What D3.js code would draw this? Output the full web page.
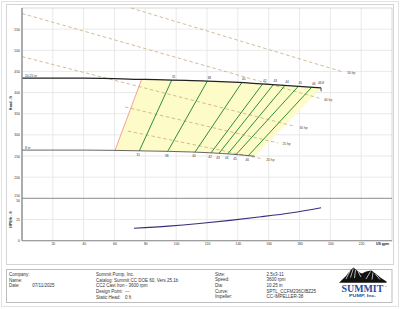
<!DOCTYPE html>
<html><head><meta charset="utf-8">
<script src="https://cdn.jsdelivr.net/npm/d3@7"></script>
<style>body{margin:0;background:#fff}svg{display:block;font-family:"Liberation Sans",Arial,sans-serif}</style>
</head><body><svg id="c" width="400" height="309"></svg>
<script>
// ---------- data ----------
const headTicks = [150,200,250,300,350,400,450,500,550];
const npshTicks = [0,25,50];
const flowTicks = [20,40,60,80,100,120,140,160,180,200,220];
const headGrid = [200,250,300,350,400,450,500,550];

const maxDiaLabel = "10.25 in";
const maxDiaFlow = [0,40,80,120,150,170,194];
const maxDiaHead = [434,434,431,427,422,417,411];
const minDiaLabel = "8 in";
const minDiaFlow = [0,40,80,110,130,151];
const minDiaHead = [264,264,262,259.5,256,249.5];

const effLabels = ["31","38","40","42","43","44","45","46"];
const effFlowMinDia = [76.1,94.5,112.2,122.6,127.8,133.4,138.8,146.8];
const effFlowMaxDia = [97.1,120.2,142.5,156.1,163.0,170.6,179.2,187.9];
const bepLabel = "46.8";

const minFlowMinDia = 60.3;
const minFlowMaxDia = 77.6;

const hpLabels = ["50 hp","40 hp","30 hp","25 hp","20 hp"];
const hpStartFlow = [70.7,0,0,66.8,68.7];
const hpStartHead = [600,587,485,366,309];
const hpEndFlow = [208,193,177,166,155.5];
const hpEndHead = [449,386.5,320,281,243.6];

const npshFlow = [72.6,95,115,135,155,175,194];
const npshValue = [14.6,17.2,20.3,24,28.2,33,38.9];

const infoLeftLabels = ["Company:","Name:","Date:"];
const infoLeftValues = ["","","07/11/2025"];
const infoMidLabels = ["Summit Pump, Inc.","Catalog: Summit CC DOE 60, Vers 25.1b","CC2 Cast Iron - 3600 rpm","Design Point:","Static Head:"];
const infoMidValues = ["","","","---","0 ft"];
const infoRightLabels = ["Size:","Speed:","Dia:","Curve:","Impeller:"];
const infoRightValues = ["2.5x3-11","3600 rpm","10.25 in","SPTL_CCFM236CIBZ25","CC-IMPELLER-38"];

// ---------- layout ----------
const svg = d3.select("#c");
const L=22, R=392, T=8, S=198.3, B=240.7;
const x = d3.scaleLinear([0,240],[L,R]);
const yH = d3.scaleLinear([150,600],[S,T]);
const yN = d3.scaleLinear([0,50],[B,S]);

// frames
svg.append("rect").attr("x",1.5).attr("y",1.5).attr("width",397).attr("height",305)
  .attr("fill","none").attr("stroke","#e2e2e2");
svg.append("rect").attr("x",6.5).attr("y",4.5).attr("width",387).attr("height",260)
  .attr("fill","none").attr("stroke","#d4d4d4");
svg.append("rect").attr("x",6.5).attr("y",269.5).attr("width",385.5).attr("height",33)
  .attr("fill","none").attr("stroke","#bdbdbd");

const g = svg.append("g");
// grid
const grid = g.append("g").attr("stroke","#e3e3e3").attr("stroke-width",0.8);
flowTicks.forEach(f=>grid.append("line").attr("x1",x(f)).attr("x2",x(f)).attr("y1",T).attr("y2",B));
headGrid.forEach(h=>grid.append("line").attr("x1",L).attr("x2",R).attr("y1",yH(h)).attr("y2",yH(h)));
grid.append("line").attr("x1",L).attr("x2",R).attr("y1",yN(25)).attr("y2",yN(25));
// plot border
g.append("rect").attr("x",L).attr("y",T).attr("width",R-L).attr("height",B-T)
  .attr("fill","none").attr("stroke","#d0d0d0").attr("stroke-width",0.8);

// interpolators along diameter curves
const maxH = d3.scaleLinear(maxDiaFlow,maxDiaHead);
const minH = d3.scaleLinear(minDiaFlow,minDiaHead);
const line = d3.line().curve(d3.curveMonotoneX);

// yellow operating region
const qEndMax = maxDiaFlow[maxDiaFlow.length-1], qEndMin = minDiaFlow[minDiaFlow.length-1];
const poly = [];
poly.push([x(minFlowMinDia),yH(minH(minFlowMinDia))]);
poly.push([x(minFlowMaxDia),yH(maxH(minFlowMaxDia))]);
d3.range(minFlowMaxDia,qEndMax,2).forEach(q=>poly.push([x(q),yH(maxH(q))]));
poly.push([x(qEndMax),yH(maxH(qEndMax))]);
poly.push([x(qEndMin),yH(minH(qEndMin))]);
d3.range(qEndMin,minFlowMinDia,-2).forEach(q=>poly.push([x(q),yH(minH(q))]));
g.append("path").attr("d","M"+poly.map(p=>p.join(",")).join("L")+"Z").attr("fill","#fdfbc8");

// min flow line
g.append("line").attr("x1",x(minFlowMinDia)).attr("y1",yH(minH(minFlowMinDia)))
  .attr("x2",x(minFlowMaxDia)).attr("y2",yH(maxH(minFlowMaxDia)))
  .attr("stroke","#f08a80").attr("stroke-width",0.8);

// hp lines
hpLabels.forEach((lab,i)=>{
  g.append("line").attr("x1",x(hpStartFlow[i])).attr("y1",yH(hpStartHead[i]))
   .attr("x2",x(hpEndFlow[i])).attr("y2",yH(hpEndHead[i]))
   .attr("stroke","#c9ab82").attr("stroke-width",0.8).attr("stroke-dasharray","3.5,2.5");
  g.append("text").attr("x",x(hpEndFlow[i])+4.5).attr("y",yH(hpEndHead[i])+2.4)
   .attr("font-size",3.3).attr("fill","#444").text(lab);
});

// efficiency lines
effLabels.forEach((lab,i)=>{
  const q1=effFlowMinDia[i], q2=effFlowMaxDia[i];
  g.append("line").attr("x1",x(q1)).attr("y1",yH(minH(q1))).attr("x2",x(q2)).attr("y2",yH(maxH(q2)))
   .attr("stroke","#2f8f3a").attr("stroke-width",1);
  g.append("text").attr("x",x(q1)-1).attr("y",yH(minH(q1))+5.3).attr("text-anchor","middle")
   .attr("font-size",3.1).attr("fill","#333").text(lab);
  g.append("text").attr("x",x(q2)+2).attr("y",yH(maxH(q2))-2.4).attr("text-anchor","middle")
   .attr("font-size",3.1).attr("fill","#333").text(lab);
});

// diameter curves
g.append("path").attr("d",line(minDiaFlow.map((q,i)=>[x(q),yH(minDiaHead[i])])))
  .attr("fill","none").attr("stroke","#555").attr("stroke-width",0.9);
g.append("path").attr("d",line(maxDiaFlow.map((q,i)=>[x(q),yH(maxDiaHead[i])])))
  .attr("fill","none").attr("stroke","#222").attr("stroke-width",1.3);
g.append("line").attr("x1",x(qEndMax)).attr("x2",x(qEndMax)).attr("y1",yH(maxH(qEndMax)))
  .attr("y2",yH(maxH(qEndMax))+3.4).attr("stroke","#222").attr("stroke-width",0.8);
g.append("text").attr("x",x(qEndMax)).attr("y",yH(maxH(qEndMax))-4).attr("text-anchor","middle")
  .attr("font-size",3.1).attr("fill","#333").text(bepLabel);
g.append("text").attr("x",L+3).attr("y",yH(maxDiaHead[0])-1.5).attr("font-size",3.3).attr("fill","#333").text(maxDiaLabel);
g.append("text").attr("x",L+3).attr("y",yH(minDiaHead[0])-1.5).attr("font-size",3.3).attr("fill","#333").text(minDiaLabel);

// NPSH curve
g.append("path").attr("d",line(npshFlow.map((q,i)=>[x(q),yN(npshValue[i])])))
  .attr("fill","none").attr("stroke","#35307e").attr("stroke-width",1.1);

// axes
const axH = g.append("g").attr("transform",`translate(${L},0)`)
  .call(d3.axisLeft(yH).tickValues(headTicks).tickSize(0).tickPadding(2));
axH.selectAll("text").filter(d=>d===150).attr("dy","-0.45em");
const axN = g.append("g").attr("transform",`translate(${L},0)`)
  .call(d3.axisLeft(yN).tickValues(npshTicks).tickSize(0).tickPadding(2));
axN.selectAll("text").filter(d=>d===50).attr("dy","0.85em");
const axX = g.append("g").attr("transform",`translate(0,${B})`)
  .call(d3.axisBottom(x).tickValues(flowTicks).tickSize(0).tickPadding(1.6));
[axH,axN,axX].forEach(a=>{a.select(".domain").remove();a.selectAll("text").attr("font-size",3.4).attr("fill","#333").attr("font-family","Liberation Sans, Arial, sans-serif");});

// axis lines
g.append("line").attr("x1",L).attr("x2",L).attr("y1",T).attr("y2",B).attr("stroke","#8a8a8a").attr("stroke-width",1.3);
g.append("line").attr("x1",L).attr("x2",R).attr("y1",B).attr("y2",B).attr("stroke","#8a8a8a").attr("stroke-width",1.1);
g.append("line").attr("x1",L).attr("x2",R).attr("y1",S).attr("y2",S).attr("stroke","#8a8a8a").attr("stroke-width",1);

// axis titles
g.append("text").attr("transform",`translate(12,${(yH(400)+yH(350))/2}) rotate(-90)`).attr("text-anchor","middle")
  .attr("font-size",3.5).attr("font-weight","bold").attr("fill","#222").text("Head - ft");
g.append("text").attr("transform",`translate(12,${yN(25)}) rotate(-90)`).attr("text-anchor","middle")
  .attr("font-size",3.5).attr("font-weight","bold").attr("fill","#222").text("NPSHr - ft");
g.append("text").attr("x",376).attr("y",B+4.2).attr("font-size",3.5).attr("font-weight","bold").attr("fill","#222").text("US gpm");

// footer info
const fs=4.5, rowY=i=>276.2+i*5.6;
const ft = svg.append("g").attr("font-size",fs).attr("fill","#333");
infoLeftLabels.forEach((t,i)=>{ft.append("text").attr("x",9).attr("y",rowY(i)).text(t);
  ft.append("text").attr("x",32.3).attr("y",rowY(i)).text(infoLeftValues[i]);});
infoMidLabels.forEach((t,i)=>{ft.append("text").attr("x",96).attr("y",rowY(i)).text(t);
  ft.append("text").attr("x",125).attr("y",rowY(i)).text(infoMidValues[i]);});
infoRightLabels.forEach((t,i)=>{ft.append("text").attr("x",215).attr("y",rowY(i)-0.5).text(t);
  ft.append("text").attr("x",266.5).attr("y",rowY(i)-0.5).text(infoRightValues[i]);});

// logo
const lg = svg.append("g");
lg.append("path").attr("d","M339,282.8 L346,276 L349,272 L353.3,267.6 L357,270.5 L360,272.8 L362,273.6 L366,271.5 L371.5,270.4 L376,274 L381,278 L386.5,281.6 L386.5,282.8 Z").attr("fill","#111");
lg.append("path").attr("d","M350,271 L346,279 M353.3,268.5 L350.5,277.5 M355.5,270 L354.5,278 M358,271.5 L361,277 M370.5,271.5 L366,279 M373,272.5 L372,279.5 M375.5,274.2 L380,279.5")
  .attr("stroke","#fff").attr("stroke-width",0.7).attr("fill","none");
lg.append("text").attr("x",341.5).attr("y",291.6).attr("font-family","Liberation Serif, Times New Roman, serif")
  .attr("font-weight","bold").attr("font-size",9.4).attr("textLength",41.8).attr("lengthAdjust","spacingAndGlyphs")
  .attr("fill","#2a4b9b").text("SUMMIT");
lg.append("text").attr("x",384.5).attr("y",288).attr("font-size",2.4).attr("fill","#2a4b9b").text("™");
lg.append("text").attr("x",349).attr("y",297).attr("font-weight","bold").attr("font-size",4)
  .attr("textLength",27).attr("lengthAdjust","spacingAndGlyphs").attr("fill","#2a4b9b").text("PUMP, Inc.");
</script></body></html>
